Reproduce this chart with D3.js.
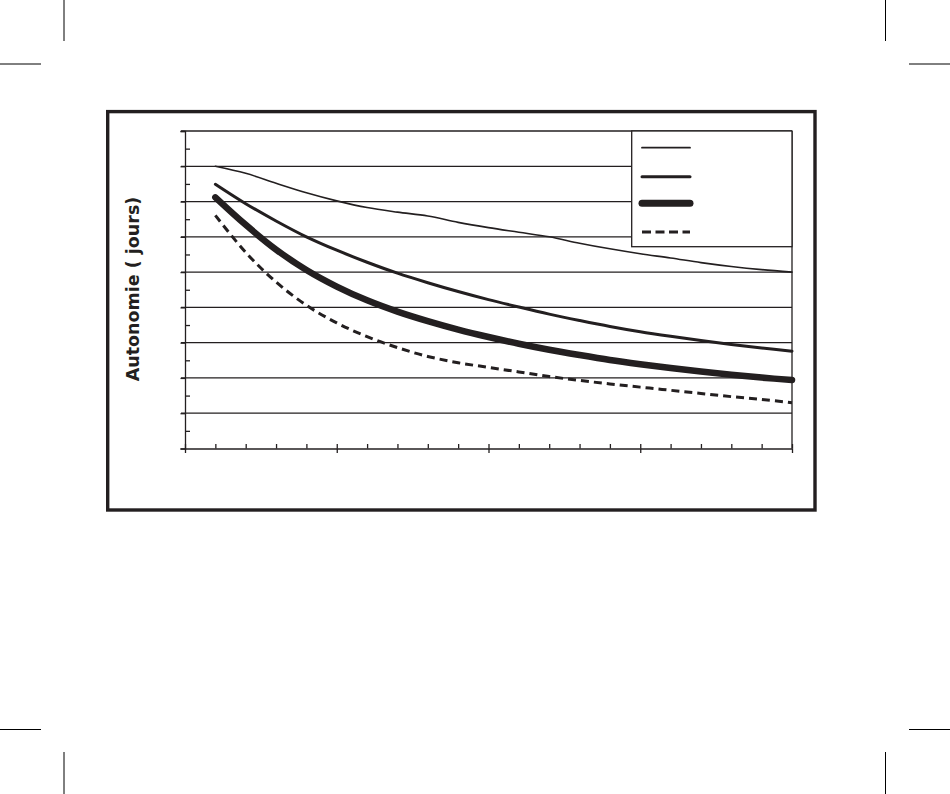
<!DOCTYPE html>
<html><head><meta charset="utf-8">
<script src="https://cdn.jsdelivr.net/npm/d3@7"></script>
<style>html,body{margin:0;padding:0;background:#fff;}svg{display:block;}</style>
</head><body>
<script>
const xCategories = [1,2,3,4,5,6,7,8,9,10,11,12,13,14,15,16,17,18,19,20];
const series1 = [80.0,78.0,75.2,72.5,70.2,68.3,67.0,65.9,64.1,62.6,61.3,60.0,58.2,56.6,55.2,54.0,52.7,51.6,50.7,50.0];
const series2 = [74.9,69.4,64.5,60.0,56.2,52.8,49.7,47.0,44.5,42.2,40.1,38.1,36.3,34.6,33.1,31.8,30.6,29.5,28.5,27.6];
const series3 = [71.2,63.4,56.4,50.6,45.9,42.0,38.8,36.1,33.7,31.6,29.7,28.0,26.5,25.1,23.9,22.8,21.8,20.9,20.1,19.4];
const series4 = [66.1,55.6,47.2,40.6,35.6,31.7,28.6,26.1,24.3,23.0,21.7,20.4,19.3,18.3,17.4,16.5,15.6,14.7,13.9,13.0];
const yMajorTicks = [0,10,20,30,40,50,60,70,80,90];
const yMinorTicks = [5,15,25,35,45,55,65,75,85];
const xMajorTicks = [0,5,10,15,20];
const xMinorTicks = [1,2,3,4,6,7,8,9,11,12,13,14,16,17,18,19];
const yTitle = "Autonomie ( jours)";

const ink = "#231f20";
const W = 950, H = 794;
const svg = d3.select("body").append("svg").attr("width", W).attr("height", H);

// crop marks
const marks = [
  [64,0,64,41],[0,64,41,64],
  [885.5,0,885.5,41],[909,64,950,64],
  [0,729.5,41,729.5],[64,752,64,794],
  [909,729.5,950,729.5],[885.5,752,885.5,794]
];
svg.selectAll("line.crop").data(marks).enter().append("line")
  .attr("x1",d=>d[0]).attr("y1",d=>d[1]).attr("x2",d=>d[2]).attr("y2",d=>d[3])
  .attr("stroke","#000").attr("stroke-width",1);

// outer frame
svg.append("rect").attr("x",107.7).attr("y",111.6).attr("width",707.3).attr("height",398.4)
  .attr("fill","none").attr("stroke",ink).attr("stroke-width",3.4);

const x = d3.scaleLinear().domain([0,20]).range([185,792]);
const y = d3.scaleLinear().domain([0,90]).range([448.5,131]);

// gridlines
svg.append("g").selectAll("line").data(yMajorTicks.filter(d=>d>0)).enter().append("line")
  .attr("x1",181).attr("x2",x(20)).attr("y1",d=>y(d)).attr("y2",d=>y(d))
  .attr("stroke",ink).attr("stroke-width",1.3);

// plot right border
svg.append("line").attr("x1",x(20)).attr("x2",x(20)).attr("y1",y(90)).attr("y2",y(0))
  .attr("stroke",ink).attr("stroke-width",1.3);

// y axis
const yAxis = svg.append("g").attr("transform",`translate(${x(0)},0)`);
yAxis.call(d3.axisLeft(y).tickValues(yMajorTicks).tickSize(4.5).tickFormat(""));
const yMin = svg.append("g").attr("transform",`translate(${x(0)},0)`);
yMin.call(d3.axisRight(y).tickValues(yMinorTicks).tickSize(5).tickSizeOuter(0).tickFormat(""));
yMin.select(".domain").remove();

// x axis
const xAxis = svg.append("g").attr("transform",`translate(0,${y(0)})`);
xAxis.call(d3.axisBottom(x).tickValues(xMajorTicks).tickSize(4.5).tickSizeOuter(0).tickFormat(""));
const xAxisUp = svg.append("g").attr("transform",`translate(0,${y(0)})`);
xAxisUp.call(d3.axisTop(x).tickValues(xMajorTicks.concat(xMinorTicks)).tickSize(4.5).tickSizeOuter(0).tickFormat(""));
xAxisUp.select(".domain").remove();
svg.selectAll(".tick line, .domain").attr("stroke",ink).attr("stroke-width",1.3);

// y title
svg.append("text").attr("transform","translate(139,289) rotate(-90)")
  .attr("text-anchor","middle").attr("font-family","'DejaVu Sans', sans-serif")
  .attr("font-weight","bold").attr("font-size",17.5).attr("fill",ink).text(yTitle);

// series
const line = d3.line().x((d,i)=>x(xCategories[i])).y(d=>y(d)).curve(d3.curveCatmullRom.alpha(0.5));
const styles = [
  {data:series1, w:1.6, lw:1.8, dash:null},
  {data:series2, w:3, lw:3, dash:null},
  {data:series3, w:6.5, lw:7, dash:null},
  {data:series4, w:3, lw:3, dash:"8,5"}
];
styles.forEach(s=>{
  svg.append("path").attr("d",line(s.data)).attr("fill","none").attr("stroke",ink)
    .attr("stroke-width",s.w).attr("stroke-linecap", s.dash ? "butt" : "round")
    .attr("stroke-linejoin","round").attr("stroke-dasharray",s.dash);
});

// legend
svg.append("rect").attr("x",631.7).attr("y",y(90)).attr("width",x(20)-631.7).attr("height",246.7-y(90))
  .attr("fill","#fff").attr("stroke",ink).attr("stroke-width",1.3);
const legY = [147.7,176.7,203.3,232];
styles.forEach((s,i)=>{
  svg.append("line").attr("x1",642).attr("x2",690).attr("y1",legY[i]).attr("y2",legY[i])
    .attr("stroke",ink).attr("stroke-width",s.lw)
    .attr("stroke-linecap", s.dash ? "butt" : "round").attr("stroke-dasharray", s.dash ? "9,4.5" : null);
});
</script>
</body></html>
